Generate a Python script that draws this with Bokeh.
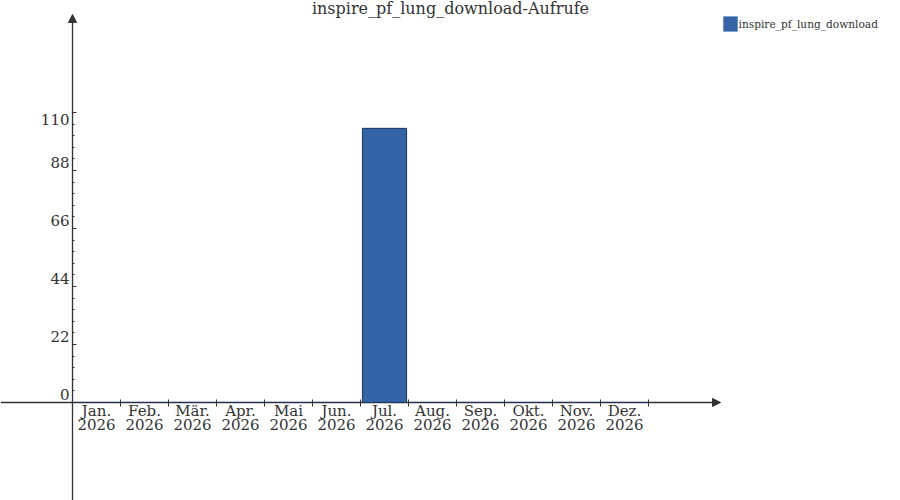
from bokeh.plotting import figure
from bokeh.models import (FixedTicker, Arrow, NormalHead, Label, Legend, LegendItem,
                          ColumnDataSource, Range1d)
from bokeh.core.properties import value
from bokeh.embed import file_html
from bokeh.resources import INLINE

# ---- data ----
months = ["Jan.", "Feb.", "Mär.", "Apr.", "Mai", "Jun.", "Jul.", "Aug.", "Sep.", "Okt.", "Nov.", "Dez."]
year = "2026"
values = [0, 0, 0, 0, 0, 0, 104, 0, 0, 0, 0, 0]
y_ticks = [0, 22, 44, 66, 88, 110]
series_name = "inspire_pf_lung_download"
title_text = "inspire_pf_lung_download-Aufrufe"

FONT = "DejaVu Serif"
TXT = "#333333"
BAR = "#3264A6"
BAR_LINE = "#1d355c"

xs = [i + 0.5 for i in range(len(months))]
src = ColumnDataSource(dict(x=xs, top=values, month=months, year=[year] * len(months)))

p = figure(width=900, height=500, output_backend="svg", toolbar_location=None,
           min_border=0, x_range=Range1d(-1.5, 17.25), y_range=Range1d(-37.18, 152.5),
           outline_line_color=None)
p.title.visible = False
p.grid.visible = False
p.background_fill_color = "white"
p.border_fill_color = "white"

# axis lines with arrows
head_kw = dict(size=8, fill_color=TXT, line_color=TXT, line_width=1)
p.add_layout(Arrow(end=NormalHead(**head_kw), x_start=-1.5, y_start=0, x_end=13.5, y_end=0,
                   line_color=TXT, line_width=1.3, level="underlay"))
p.add_layout(Arrow(end=NormalHead(**head_kw), x_start=0, y_start=-37.18, x_end=0, y_end=147.2,
                   line_color=TXT, line_width=1.3, level="underlay"))

bars = p.vbar(x="x", top="top", bottom=0, width=0.92, source=src,
              fill_color=BAR, line_color=BAR_LINE, line_width=1)

# legend proxy (no outline), its single point lies outside the visible range
proxy = p.vbar(x=[100], top=[1], width=0.9, fill_color=BAR, line_color=None)
legend = Legend(items=[LegendItem(label=series_name, renderers=[proxy])],
                location=(720.5, 467), padding=0, margin=0, spacing=0,
                glyph_width=18, glyph_height=19, label_height=19, label_standoff=0,
                label_text_font=FONT, label_text_font_size="10.6px", label_text_color=TXT,
                border_line_color=None, background_fill_alpha=0)
p.add_layout(legend)

# x axis: boundary ticks from the axis, two-line labels as text
xa = p.xaxis[0]
xa.fixed_location = 0
xa.ticker = FixedTicker(ticks=xs, minor_ticks=list(range(len(months) + 1)))
xa.major_label_overrides = {x: "" for x in xs}
xa.axis_line_color = None
xa.major_tick_line_color = None
xa.major_tick_in = 0
xa.major_tick_out = 0
xa.minor_tick_line_color = TXT
xa.minor_tick_in = 3
xa.minor_tick_out = 4

xlab_kw = dict(text_font=value(FONT), text_font_size="15px", text_color=TXT,
               text_align="center", text_baseline="middle")
p.text(x="x", y=0, text="month", y_offset=8.5, source=src, **xlab_kw)
p.text(x="x", y=0, text="year", y_offset=22, source=src, **xlab_kw)

# y axis: ticks from the axis, labels as text placed just above each tick
ya = p.yaxis[0]
ya.fixed_location = 0
minor = [round(t * 4.4, 2) for t in range(1, 25) if t % 5]
ya.ticker = FixedTicker(ticks=y_ticks, minor_ticks=minor)
ya.major_label_overrides = {t: "" for t in y_ticks}
ya.axis_line_color = None
ya.major_tick_line_color = TXT
ya.minor_tick_line_color = TXT
ya.major_tick_in = 4
ya.major_tick_out = 0
ya.minor_tick_in = 2
ya.minor_tick_out = 0

ylab_kw = dict(text_font=value(FONT), text_font_size="15px", text_color=TXT, text_align="right")
p.text(x=[0] * (len(y_ticks) - 1), y=y_ticks[:-1], text=[str(t) for t in y_ticks[:-1]],
       x_offset=-3, y_offset=-8, text_baseline="middle", **ylab_kw)
p.text(x=[0], y=y_ticks[-1:], text=[str(y_ticks[-1])],
       x_offset=-3, y_offset=1, text_baseline="top", **ylab_kw)

# title
p.add_layout(Label(x=450, y=492, x_units="screen", y_units="screen", text=title_text,
                   text_align="center", text_baseline="middle", text_font=FONT,
                   text_font_size="16px", text_color=TXT))

open("out.html", "w").write(file_html(p, INLINE))
